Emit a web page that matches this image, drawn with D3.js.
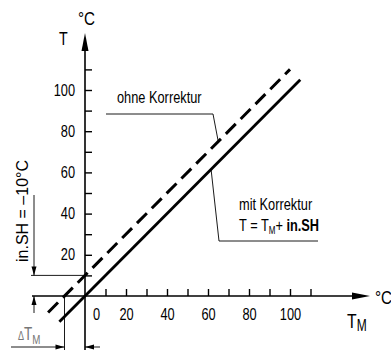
<!DOCTYPE html>
<html>
<head>
<meta charset="utf-8">
<script src="https://cdn.jsdelivr.net/npm/d3@7"></script>
<style>
  body { margin: 0; background: #fff; }
  svg text { font-family: "Liberation Sans", Arial, sans-serif; fill: #000; }
</style>
</head>
<body>
<script>
// tick values on both axes
const xTickValues = [10, 20, 30, 40, 50, 60, 70, 80, 90, 100, 110];
const yTickValues = [10, 20, 30, 40, 50, 60, 70, 80, 90, 100, 110];
const xTickLabels = [0, 20, 40, 60, 80, 100];
const yTickLabels = [20, 40, 60, 80, 100];

// the two lines (T_M, T)
const ohneKorrektur = [[-18, -8], [100, 110]];      // dashed, T = T_M + 10
const mitKorrektur = [[-12.5, -12.5], [105, 105]];  // solid, T = T_M
const inSH = 10;        // offset between lines
const deltaTM = -10;    // where dashed line crosses T = 0

const width = 391, height = 350;
const narrowX = 0.8;    // the source font is a condensed one

const svg = d3.select('body').append('svg')
    .attr('width', width)
    .attr('height', height);

const x = d3.scaleLinear().domain([0, 100]).range([85, 290]);
const y = d3.scaleLinear().domain([0, 100]).range([296, 90]);

// put a text at (px, py), squeezed horizontally
function label(px, py, size, sx) {
    return svg.append('text')
        .attr('transform', `translate(${px},${py}) scale(${sx || narrowX},1)`)
        .style('font-size', size + 'px');
}

// axis lines
svg.append('line')
    .attr('x1', 32).attr('x2', 360)
    .attr('y1', y(0)).attr('y2', y(0))
    .attr('stroke', '#000').attr('stroke-width', 1.6);
svg.append('line')
    .attr('x1', x(0)).attr('x2', x(0))
    .attr('y1', 350).attr('y2', 45)
    .attr('stroke', '#000').attr('stroke-width', 1.6);

// arrow heads
svg.append('path')
    .attr('d', `M${x(0)},33 L${x(0) - 3.5},51 L${x(0) + 3.5},51 Z`)
    .attr('fill', '#000');
svg.append('path')
    .attr('d', `M370,${y(0)} L352,${y(0) - 3.5} L352,${y(0) + 3.5} Z`)
    .attr('fill', '#000');

// tick marks
svg.append('g')
    .attr('transform', `translate(0,${y(0)})`)
    .call(d3.axisTop(x).tickValues(xTickValues).tickSize(7).tickFormat(''))
    .call(g => g.select('.domain').remove())
    .selectAll('line').attr('stroke-width', 1.4);

svg.append('g')
    .attr('transform', `translate(${x(0)},0)`)
    .call(d3.axisRight(y).tickValues(yTickValues).tickSize(7).tickFormat(''))
    .call(g => g.select('.domain').remove())
    .selectAll('line').attr('stroke-width', 1.4);

// tick labels
const xLab = svg.append('g')
    .attr('transform', `translate(0,${y(0)})`)
    .call(d3.axisBottom(x).tickValues(xTickLabels).tickSize(0).tickPadding(13));
xLab.select('.domain').remove();
xLab.selectAll('text')
    .style('font-size', '16px')
    .attr('transform', `scale(${narrowX},1)`)
    .attr('dx', d => d === 0 ? 11 / narrowX : 0);

const yLab = svg.append('g')
    .attr('transform', `translate(${x(0)},0)`)
    .call(d3.axisLeft(y).tickValues(yTickLabels).tickSize(0).tickPadding(10 / narrowX));
yLab.select('.domain').remove();
yLab.selectAll('text')
    .style('font-size', '16px')
    .attr('transform', `scale(${narrowX},1)`);

// the two lines
const line = d3.line().x(d => x(d[0])).y(d => y(d[1]));

svg.append('path')
    .datum(ohneKorrektur)
    .attr('d', line)
    .attr('fill', 'none')
    .attr('stroke', '#000')
    .attr('stroke-width', 3)
    .attr('stroke-dasharray', '14,7');

svg.append('path')
    .datum(mitKorrektur)
    .attr('d', line)
    .attr('fill', 'none')
    .attr('stroke', '#000')
    .attr('stroke-width', 2.8);

// axis titles
label(59, 45, 19, 0.75).text('T');
label(78, 25, 19).text('°C');
label(375, 304, 19).text('°C');
const tm = label(347, 328, 21, 0.75);
tm.append('tspan').text('T');
tm.append('tspan').attr('dy', 3).style('font-size', '16px').text('M');

// leader: ohne Korrektur
svg.append('polyline')
    .attr('points', [[106, 114], [213, 114], [x(65), y(75)]].join(' '))
    .attr('fill', 'none').attr('stroke', '#000').attr('stroke-width', 0.9);
label(117, 103, 16).text('ohne Korrektur');

// leader: mit Korrektur
svg.append('polyline')
    .attr('points', [[x(61.5), y(61.5)], [219, 241], [318, 241]].join(' '))
    .attr('fill', 'none').attr('stroke', '#000').attr('stroke-width', 0.9);
label(239, 210, 16).text('mit Korrektur');
const f = label(239, 231, 16);
f.append('tspan').text('T = T');
f.append('tspan').attr('dy', 3).style('font-size', '10px').text('M');
f.append('tspan').attr('dy', -3).text('+ ');
f.append('tspan').style('font-weight', 'bold').text('in.SH');

// dimension: in.SH
const thin = g => g.attr('stroke', '#000').attr('stroke-width', 0.9).attr('fill', 'none');
svg.append('line').attr('x1', 31).attr('x2', x(0)).attr('y1', y(inSH)).attr('y2', y(inSH)).call(thin);
svg.append('line').attr('x1', 34).attr('x2', 34).attr('y1', 195).attr('y2', y(inSH)).call(thin);
svg.append('line').attr('x1', 34).attr('x2', 34).attr('y1', y(0)).attr('y2', 313).call(thin);
svg.append('path').attr('d', `M34,${y(inSH)} L31.5,${y(inSH) - 9} L36.5,${y(inSH) - 9} Z`).attr('fill', '#000');
svg.append('path').attr('d', `M34,${y(0)} L31.5,${y(0) + 9} L36.5,${y(0) + 9} Z`).attr('fill', '#000');
svg.append('text')
    .attr('transform', 'translate(28,262) rotate(-90)')
    .style('font-size', '16px')
    .text('in.SH = –10°C');

// dimension: delta T_M
svg.append('line').attr('x1', x(deltaTM)).attr('x2', x(deltaTM)).attr('y1', y(0)).attr('y2', 350).call(thin);
svg.append('line').attr('x1', 11).attr('x2', x(deltaTM)).attr('y1', 347).attr('y2', 347).call(thin);
svg.append('line').attr('x1', x(0)).attr('x2', 100).attr('y1', 347).attr('y2', 347).call(thin);
svg.append('path').attr('d', `M${x(deltaTM)},347 L${x(deltaTM) - 9},344.5 L${x(deltaTM) - 9},349.5 Z`).attr('fill', '#000');
svg.append('path').attr('d', `M${x(0)},347 L${x(0) + 9},344.5 L${x(0) + 9},349.5 Z`).attr('fill', '#000');
const dt = label(18, 340, 18, 0.75);
dt.append('tspan').style('font-size', '12px').style('fill', '#777').text('Δ');
dt.append('tspan').style('fill', '#777').text('T');
dt.append('tspan').attr('dy', 4).style('font-size', '13px').style('fill', '#777').text('M');
</script>
</body>
</html>
